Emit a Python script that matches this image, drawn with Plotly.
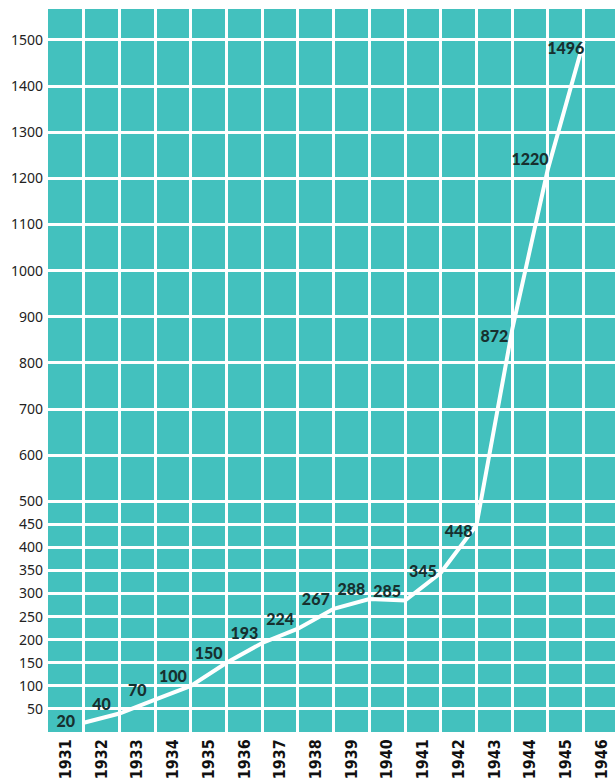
import plotly.graph_objects as go

years = [1931, 1932, 1933, 1934, 1935, 1936, 1937, 1938, 1939, 1940, 1941, 1942, 1943, 1944, 1945]
values = [20, 40, 70, 100, 150, 193, 224, 267, 288, 285, 345, 448, 872, 1220, 1496]
year_labels = [str(y) for y in range(1931, 1947)]
y_ticks = [50, 100, 150, 200, 250, 300, 350, 400, 450, 500,
           600, 700, 800, 900, 1000, 1100, 1200, 1300, 1400, 1500]
y_tick_text = [str(v) for v in y_ticks]

TEAL = "#43C1BE"
label_years = [int(s) for s in year_labels]

fig = go.Figure()

# line: each year's value plotted at the end of its column
fig.add_trace(go.Scatter(
    x=[y + 0.5 for y in years], y=values,
    mode="lines",
    line=dict(color="white", width=4),
    hoverinfo="skip", showlegend=False,
))

# value labels centred in each year's column
positions = ["top center"] * len(values)
for i, v in enumerate(values):
    if v in (448, 872, 1496):
        positions[i] = "bottom center"
    elif v in (345, 20):
        positions[i] = "middle center"
fig.add_trace(go.Scatter(
    x=years, y=values,
    mode="text",
    text=[str(v) for v in values],
    textposition=positions,
    textfont=dict(family="Lato, 'Noto Sans', sans-serif", size=16, color="#17302F", weight=900),
    hoverinfo="skip", showlegend=False,
))

fig.update_layout(
    width=615, height=779,
    margin=dict(l=48, r=0, t=9, b=44),
    paper_bgcolor="white",
    plot_bgcolor=TEAL,
    showlegend=False,
    xaxis=dict(
        range=[1930.5, 1946.38],
        tickmode="array",
        tickvals=label_years,
        ticktext=year_labels,
        tickangle=-90,
        tickfont=dict(family="'DejaVu Sans Condensed', 'Liberation Sans Narrow', sans-serif",
                      size=16, color="#111111", weight="bold"),
        showgrid=False,
        zeroline=False,
        ticks="",
        ticklabelstandoff=3,
        minor=dict(
            tickmode="array",
            tickvals=[y + 0.5 for y in label_years],
            showgrid=True,
            gridcolor="white",
            gridwidth=2.5,
            ticks="",
        ),
        fixedrange=True,
    ),
    yaxis=dict(
        range=[0, 1567],
        tickmode="array",
        tickvals=y_ticks,
        ticktext=y_tick_text,
        tickfont=dict(family="'Noto Sans', sans-serif", size=14, color="#222222"),
        showgrid=True,
        gridcolor="white",
        gridwidth=2.5,
        zeroline=False,
        ticks="",
        ticklabelstandoff=4,
        fixedrange=True,
    ),
)

fig.write_html("out.html")
